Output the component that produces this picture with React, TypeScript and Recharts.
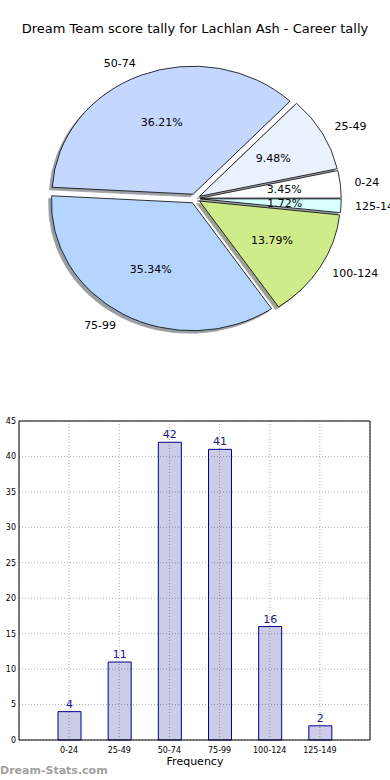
import React from 'react'
import {
  PieChart,
  Pie,
  BarChart,
  Bar,
  XAxis,
  YAxis,
  CartesianGrid,
  LabelList,
} from 'recharts'

// score bands and how many games fell in each
const categories = ['0-24', '25-49', '50-74', '75-99', '100-124', '125-149']
const counts = [4, 11, 42, 41, 16, 2]
const pieColors = ['#ffffff', '#eaf1ff', '#c4d8ff', '#b5d5ff', '#cfeb8a', '#d7ffff']
const yTicks = [0, 5, 10, 15, 20, 25, 30, 35, 40, 45]

const data = categories.map((name, i) => ({ name, value: counts[i], color: pieColors[i] }))

const FONT = '"DejaVu Sans", sans-serif'
const RAD = Math.PI / 180
const SQUASH = 128 / 141 // matplotlib pie was not drawn with equal aspect
const EXPLODE = 0.037

function ellipsePath(cx: number, cy: number, rx: number, ry: number, a0: number, a1: number) {
  const x0 = cx + rx * Math.cos(a0 * RAD)
  const y0 = cy - ry * Math.sin(a0 * RAD)
  const x1 = cx + rx * Math.cos(a1 * RAD)
  const y1 = cy - ry * Math.sin(a1 * RAD)
  const large = a1 - a0 > 180 ? 1 : 0
  return `M${cx},${cy} L${x0},${y0} A${rx},${ry} 0 ${large} 0 ${x1},${y1} Z`
}

function center(p: any) {
  const rx = p.outerRadius
  const ry = rx * SQUASH
  const mid = (p.startAngle + p.endAngle) / 2
  return {
    ex: p.cx + EXPLODE * rx * Math.cos(mid * RAD),
    ey: p.cy - EXPLODE * ry * Math.sin(mid * RAD),
    rx,
    ry,
    mid,
  }
}

function darker(hex: string) {
  const n = parseInt(hex.slice(1), 16)
  const r = Math.round(((n >> 16) & 255) * 0.3)
  const g = Math.round(((n >> 8) & 255) * 0.3)
  const b = Math.round((n & 255) * 0.3)
  return `rgb(${r},${g},${b})`
}

const Wedge = (p: any) => {
  const { ex, ey, rx, ry } = center(p)
  return (
    <path
      d={ellipsePath(ex, ey, rx, ry, p.startAngle, p.endAngle)}
      fill={p.payload.color}
      stroke="#000"
      strokeWidth={0.8}
      strokeLinejoin="round"
    />
  )
}

const ShadowWedge = (p: any) => {
  const { ex, ey, rx, ry } = center(p)
  const c = darker(p.payload.color)
  return (
    <path
      d={ellipsePath(ex - 0.02 * rx, ey + 0.02 * ry, rx, ry, p.startAngle, p.endAngle)}
      fill={c}
      stroke={c}
      strokeWidth={0.8}
      opacity={0.5}
    />
  )
}

const renderLabel = (p: any) => {
  const { ex, ey, rx, ry, mid } = center(p)
  const c = Math.cos(mid * RAD)
  const s = Math.sin(mid * RAD)
  return (
    <g>
      <text
        x={ex + 1.1 * rx * c}
        y={ey - 1.1 * ry * s}
        textAnchor={c > 0 ? 'start' : 'end'}
        dominantBaseline="central"
        fontSize={11}
        fontFamily={FONT}
        fill="#000"
      >
        {p.name}
      </text>
      <text
        x={ex + 0.6 * rx * c}
        y={ey - 0.6 * ry * s}
        textAnchor="middle"
        dominantBaseline="central"
        fontSize={11}
        fontFamily={FONT}
        fill="#000"
      >
        {`${(p.percent * 100).toFixed(2)}%`}
      </text>
    </g>
  )
}

export default function App() {
  return (
    <div
      style={{
        position: 'absolute',
        left: 0,
        top: 0,
        width: 390,
        height: 780,
        overflow: 'hidden',
        background: '#fff',
        fontFamily: FONT,
      }}
    >
      <div style={{ position: 'absolute', top: 21, left: 0, width: 390, textAlign: 'center', fontSize: 13 }}>
        Dream Team score tally for Lachlan Ash - Career tally
      </div>

      <div style={{ position: 'absolute', top: 0, left: 0 }}>
        <PieChart width={390} height={380} margin={{ top: 0, right: 0, bottom: 0, left: 0 }}>
          <Pie
            data={data}
            dataKey="value"
            nameKey="name"
            cx={195}
            cy={198.6}
            outerRadius={141}
            startAngle={0}
            endAngle={360}
            shape={ShadowWedge}
            isAnimationActive={false}
          />
          <Pie
            data={data}
            dataKey="value"
            nameKey="name"
            cx={195}
            cy={198.6}
            outerRadius={141}
            startAngle={0}
            endAngle={360}
            shape={Wedge}
            label={renderLabel}
            labelLine={false}
            isAnimationActive={false}
          />
        </PieChart>
      </div>

      <div style={{ position: 'absolute', top: 410, left: 0 }}>
        <BarChart
          width={390}
          height={370}
          data={data}
          margin={{ top: 11, right: 20, bottom: 0, left: 0 }}
        >
          <CartesianGrid stroke="#b0b0b0" strokeDasharray="1 2" />
          {/* top and right spines of the axes frame */}
          <CartesianGrid
            stroke="#000"
            strokeWidth={1}
            horizontalCoordinatesGenerator={({ offset }: any) => [offset.top]}
            verticalCoordinatesGenerator={({ offset }: any) => [offset.left + offset.width]}
          />
          <XAxis
            dataKey="name"
            padding={{ left: 25, right: 25 }}
            height={40}
            tickLine={false}
            tickMargin={1}
            axisLine={{ stroke: '#000' }}
            tick={{ fontSize: 8, fill: '#000', fontFamily: FONT }}
            interval={0}
          />
          <YAxis
            width={19}
            domain={[0, 45]}
            ticks={yTicks}
            tickLine={false}
            tickSize={0}
            tickMargin={3}
            axisLine={{ stroke: '#000' }}
            tick={{ fontSize: 8, fill: '#000', fontFamily: FONT }}
          />
          <Bar
            dataKey="value"
            barSize={23}
            fill="#000080"
            fillOpacity={0.2}
            stroke="#00008b"
            strokeWidth={1}
            isAnimationActive={false}
          >
            <LabelList
              dataKey="value"
              position="top"
              offset={4}
              fill="#1a1a8c"
              fontSize={11}
              fontFamily={FONT}
            />
          </Bar>
        </BarChart>
      </div>

      <div style={{ position: 'absolute', top: 755, left: 0, width: 390, textAlign: 'center', fontSize: 11 }}>
        Frequency
      </div>
      <div
        style={{
          position: 'absolute',
          top: 764,
          left: 0,
          fontSize: 11,
          fontWeight: 'bold',
          color: '#a0a0a0',
        }}
      >
        Dream-Stats.com
      </div>
    </div>
  )
}
